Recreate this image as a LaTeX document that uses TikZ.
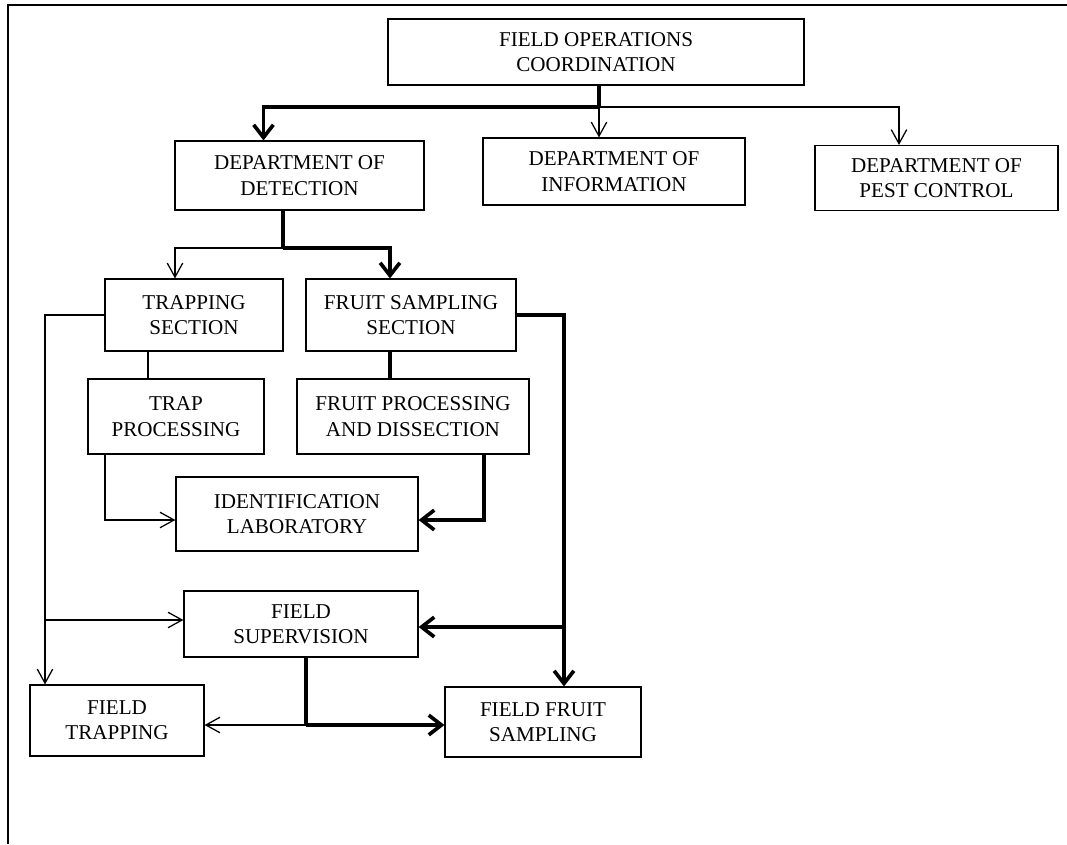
\documentclass[tikz,border=0pt]{standalone}
\usepackage{fontspec}
\setmainfont{Liberation Serif}
\usetikzlibrary{arrows.meta}

\tikzset{
  box/.style={draw, line width=0.8pt, align=center, inner sep=0pt, font=\fontsize{15}{18}\selectfont},
  flowthin/.style={line width=0.9pt},
  flowthick/.style={line width=2.6pt},
  tipthin/.style={-{Straight Barb[length=10pt,width=11pt]}},
  tipthick/.style={-{Straight Barb[length=9pt,width=14pt]}},
}

\begin{document}
\begin{tikzpicture}[x=0.025cm, y=-0.025cm]
  \useasboundingbox (0,0) rectangle (1067,844);
  \draw[line width=1.2pt] (8,844) -- (8,5) -- (1067,5);

  \node[box, minimum width=10.4cm, minimum height=1.65cm] (foc) at (596,52) {FIELD OPERATIONS\\COORDINATION};

  \node[box, minimum width=6.225cm, minimum height=1.725cm] (dd) at (299.5,175.5) {DEPARTMENT OF\\DETECTION};
  \node[box, minimum width=6.55cm, minimum height=1.675cm] (di) at (614,171.5) {DEPARTMENT OF\\INFORMATION};
  \node[box, minimum width=6.075cm, minimum height=1.625cm] (dpc) at (936.5,178) {DEPARTMENT OF\\PEST CONTROL};

  \node[box, minimum width=4.45cm, minimum height=1.8cm] (ts) at (194,315) {TRAPPING\\SECTION};
  \node[box, minimum width=5.25cm, minimum height=1.8cm] (fss) at (411,315) {FRUIT SAMPLING\\SECTION};

  \node[box, minimum width=4.4cm, minimum height=1.875cm] (tp) at (176,416.5) {TRAP\\PROCESSING};
  \node[box, minimum width=5.8cm, minimum height=1.875cm] (fpd) at (413,416.5) {FRUIT PROCESSING\\AND DISSECTION};

  \node[box, minimum width=6.05cm, minimum height=1.85cm] (il) at (297,514) {IDENTIFICATION\\LABORATORY};

  \node[box, minimum width=5.85cm, minimum height=1.65cm] (fs) at (301,624) {FIELD\\SUPERVISION};

  \node[box, minimum width=4.35cm, minimum height=1.775cm] (ft) at (117,720.5) {FIELD\\TRAPPING};
  \node[box, minimum width=4.9cm, minimum height=1.75cm] (ffs) at (543,722) {FIELD FRUIT\\SAMPLING};

  \coordinate (j1) at (599,107);
  \draw[flowthick] (foc.south -| j1) -- (j1);
  \draw[flowthick, tipthick] (j1) -| ([xshift=-0.9cm]dd.north);
  \draw[flowthin, tipthin] (j1) -- (di.north -| j1);
  \draw[flowthin, tipthin] (j1) -| ([xshift=-0.9375cm]dpc.north);

  \coordinate (j2) at (283,248);
  \draw[flowthick] (dd.south -| j2) -- (j2);
  \draw[flowthick, tipthick] (j2) -| ([xshift=-0.525cm]fss.north);
  \draw[flowthin, tipthin] (j2) -| ([xshift=-0.475cm]ts.north);

  \coordinate (j3) at (45,315);
  \coordinate (j4) at (45,620);
  \draw[flowthin] (ts.west) -- (j3) -- (j4);
  \draw[flowthin, tipthin] (j4) -- (j4 -| fs.west);
  \draw[flowthin, tipthin] (j4) -- (j4 |- ft.north);

  \draw[flowthin] ([xshift=-1.15cm]ts.south) -- ([xshift=-1.15cm]ts.south |- tp.north);
  \draw[flowthick] ([xshift=-0.525cm]fss.south) -- ([xshift=-0.525cm]fss.south |- fpd.north);

  \coordinate (j5) at (105,520);
  \draw[flowthin, tipthin] (tp.south -| j5) -- (j5) -- (j5 -| il.west);
  \coordinate (j6) at (484,520);
  \draw[flowthick, tipthick] (fpd.south -| j6) -- (j6) -- (j6 -| il.east);

  \coordinate (j7) at (564,315);
  \coordinate (j8) at (564,627);
  \draw[flowthick] (fss.east) -- (j7) -- (j8);
  \draw[flowthick, tipthick] (j8) -- (j8 -| fs.east);
  \draw[flowthick, tipthick] (j8) -- (j8 |- ffs.north);

  \coordinate (j9) at (306,725);
  \draw[flowthick] (fs.south -| j9) -- (j9);
  \draw[flowthick, tipthick] (j9) -- (j9 -| ffs.west);
  \draw[flowthin, tipthin] (j9) -- (j9 -| ft.east);
\end{tikzpicture}
\end{document}
